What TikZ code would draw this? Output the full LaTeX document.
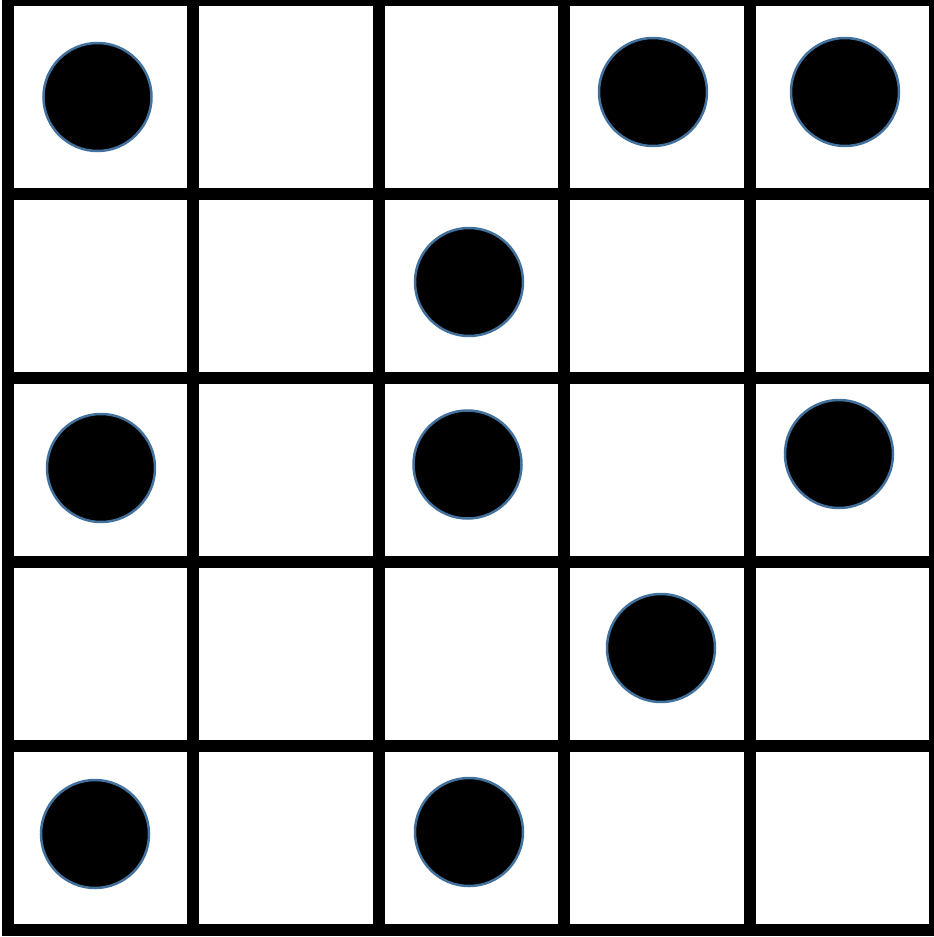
\documentclass[tikz,border=0pt]{standalone}
\definecolor{ringblue}{HTML}{41719C}
\begin{document}
\begin{tikzpicture}[x=1pt,y=-1pt,
  gridline/.style={line width=12pt,black},
  stone/.style={circle,fill=black,draw=ringblue,line width=2.5pt,minimum size=108pt,inner sep=0pt}]
\useasboundingbox (0,0) rectangle (934,937);
\clip (0,0) rectangle (934,937);
\fill[white] (0,0) rectangle (934,937);
% vertical lines
\foreach \x in {8,193,379,564,750,935} \draw[gridline] (\x,-10) -- (\x,935.5);
% horizontal lines
\foreach \y in {0,194,378,562,746,929.5} \draw[gridline] (2,\y) -- (945,\y);
% stones
\node[stone] (s1) at (97.5,97) {};
\node[stone] (s2) at (653,92) {};
\node[stone] (s3) at (845,92) {};
\node[stone] (s4) at (469,282) {};
\node[stone] (s5) at (101,468) {};
\node[stone] (s6) at (467.5,464.5) {};
\node[stone] (s7) at (839,454) {};
\node[stone] (s8) at (661,648) {};
\node[stone] (s9) at (95,834) {};
\node[stone] (s10) at (469,832) {};
\end{tikzpicture}
\end{document}
